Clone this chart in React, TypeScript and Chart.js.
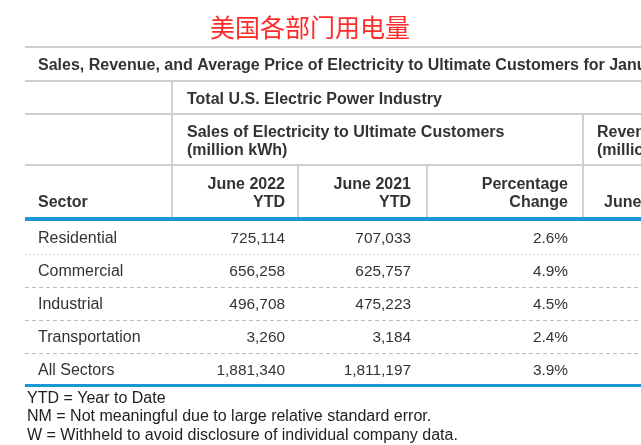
import React, { useEffect, useRef } from "react";
import { Chart, registerables } from "chart.js";

Chart.register(...registerables);

const chartTitle = "美国各部门用电量";
const tableTitle = "Sales, Revenue, and Average Price of Electricity to Ultimate Customers for January";
const groupTitle = "Total U.S. Electric Power Industry";
const salesTitle = ["Sales of Electricity to Ultimate Customers", "(million kWh)"];
const revenueTitle = ["Revenue", "(million dollars)"];
const columnHeaders = [["June 2022", "YTD"], ["June 2021", "YTD"], ["Percentage", "Change"]];
const nextColumnHeader = "June 2022";
const sectors = ["Residential", "Commercial", "Industrial", "Transportation", "All Sectors"];
const sales2022 = [725114, 656258, 496708, 3260, 1881340];
const sales2021 = [707033, 625757, 475223, 3184, 1811197];
const pctChange = [2.6, 4.9, 4.5, 2.4, 3.9];
const footnotes = [
  "YTD = Year to Date",
  "NM = Not meaningful due to large relative standard error.",
  "W = Withheld to avoid disclosure of individual company data.",
];

const fmt = (v: number) => v.toLocaleString("en-US");

const FONT = "'Liberation Sans', Arial, sans-serif";
const TEXT = "#333333";
const GRID = "#cfcfcf";
const BLUE = "#1b97d5";
const DY = 1.5;

const tablePlugin = {
  id: "tablePlugin",
  afterDraw(chart: any) {
    const ctx = chart.ctx as CanvasRenderingContext2D;
    const y = chart.scales.y;
    const area = chart.chartArea;
    const L = area.left;
    const R = chart.width;
    const colRight = [285, 411, 568];
    const vLines = [172, 298, 427, 583];

    const hline = (yy: number, x1: number, x2: number, color = GRID, w = 2, dash: number[] = []) => {
      ctx.save();
      ctx.strokeStyle = color;
      ctx.lineWidth = w;
      ctx.setLineDash(dash);
      ctx.beginPath();
      ctx.moveTo(x1, yy);
      ctx.lineTo(x2, yy);
      ctx.stroke();
      ctx.restore();
    };
    const vline = (xx: number, y1: number, y2: number) => {
      ctx.save();
      ctx.strokeStyle = GRID;
      ctx.lineWidth = 2;
      ctx.beginPath();
      ctx.moveTo(xx, y1);
      ctx.lineTo(xx, y2);
      ctx.stroke();
      ctx.restore();
    };
    const text = (s: string, x: number, yy: number, align: CanvasTextAlign, font: string, color = TEXT) => {
      ctx.save();
      ctx.font = font;
      ctx.fillStyle = color;
      ctx.textAlign = align;
      ctx.textBaseline = "middle";
      ctx.fillText(s, x, yy + DY);
      ctx.restore();
    };

    ctx.save();
    ctx.fillStyle = "#ffffff";
    ctx.fillRect(0, 0, chart.width, chart.height);
    ctx.restore();

    const bold = `bold 16px ${FONT}`;
    const normal = `16px ${FONT}`;
    const num = `15.4px ${FONT}`;

    text(chartTitle, 310, 26, "center", `25px 'Noto Sans CJK SC', sans-serif`, "#ff2a2a");

    hline(47, L, R);
    text(tableTitle, 38, 64, "left", bold);
    hline(81, L, R);
    text(groupTitle, 187, 98, "left", bold);
    hline(114, L, R);
    text(salesTitle[0], 187, 131, "left", bold);
    text(salesTitle[1], 187, 149, "left", bold);
    text(revenueTitle[0], 597, 131, "left", bold);
    text(revenueTitle[1], 597, 149, "left", bold);
    hline(165, L, R);

    const headTop = area.top - 3;
    vline(vLines[0], 81, headTop);
    vline(vLines[3], 114, headTop);
    vline(vLines[1], 165, headTop);
    vline(vLines[2], 165, headTop);

    text("Sector", 38, 201, "left", bold);
    columnHeaders.forEach((h, i) => {
      text(h[0], colRight[i], 183, "right", bold);
      text(h[1], colRight[i], 201, "right", bold);
    });
    text(nextColumnHeader, 604, 201, "left", bold);

    hline(area.top - 1.5, L, R, BLUE, 4);

    sectors.forEach((s, i) => {
      const cy = y.getPixelForValue(i);
      text(s, 38, cy, "left", normal);
      text(fmt(sales2022[i]), colRight[0], cy, "right", num);
      text(fmt(sales2021[i]), colRight[1], cy, "right", num);
      text(pctChange[i].toFixed(1) + "%", colRight[2], cy, "right", num);
      if (i < sectors.length - 1) {
        const ny = (cy + y.getPixelForValue(i + 1)) / 2;
        if (i === 0) hline(Math.round(ny) + 0.5, L, R, "#d8d8d8", 1, [2, 2]);
        else hline(Math.round(ny) + 0.5, L, R, "#bdbdbd", 1, [4, 3]);
      }
    });

    hline(area.bottom, L, R, BLUE, 3);

    footnotes.forEach((f, i) => {
      text(f, 27, 397 + i * 18.5, "left", `16px ${FONT}`, "#222222");
    });
  },
};

export default function App() {
  const ref = useRef<HTMLCanvasElement | null>(null);
  useEffect(() => {
    document.body.style.margin = "0";
    if (!ref.current) return;
    const chart = new Chart(ref.current, {
      type: "bar",
      data: {
        labels: sectors,
        datasets: [
          {
            label: "June 2022 YTD",
            data: sales2022,
            backgroundColor: "rgba(0,0,0,0)",
            borderWidth: 0,
          },
        ],
      },
      options: {
        indexAxis: "y",
        responsive: false,
        animation: false,
        events: [],
        layout: { padding: { top: 220.5, bottom: 59.5, left: 25, right: 0 } },
        plugins: { legend: { display: false }, tooltip: { enabled: false } },
        scales: {
          x: { display: false, min: 0 },
          y: { display: false, offset: true },
        },
      },
      plugins: [tablePlugin],
    });
    return () => chart.destroy();
  }, []);
  return (
    <div style={{ position: "absolute", left: 0, top: 0, width: 641, height: 445 }}>
      <canvas ref={ref} width={641} height={445} style={{ width: 641, height: 445 }} />
    </div>
  );
}
